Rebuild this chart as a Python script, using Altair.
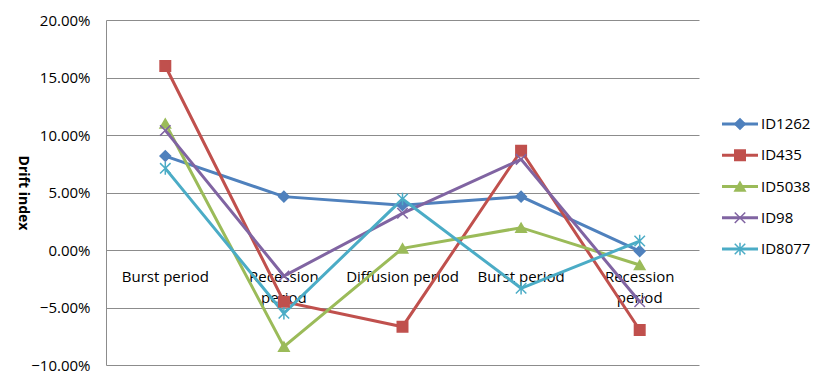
import altair as alt
import pandas as pd

# ---- data ----
cat_keys = ["1", "2", "3", "4", "5"]
cat_labels = ["Burst period", "Recession\nperiod", "Diffusion period", "Burst period", "Recession\nperiod"]

series_names = ["ID1262", "ID435", "ID5038", "ID98", "ID8077"]
id1262 = [0.0817, 0.0464, 0.0390, 0.0464, -0.0010]
id435 = [0.1600, -0.0450, -0.0667, 0.0864, -0.0696]
id5038 = [0.1100, -0.0840, 0.0014, 0.0194, -0.0130]
id98 = [0.1040, -0.0226, 0.0319, 0.0788, -0.0450]
id8077 = [0.0710, -0.0550, 0.0443, -0.0333, 0.0078]
series_values = [id1262, id435, id5038, id98, id8077]

colors = ["#4F81BD", "#C0504D", "#9BBB59", "#8064A2", "#4BACC6"]
shapes = [
    "diamond",
    "square",
    "triangle-up",
    "M-1,-1L1,1M-1,1L1,-1",
    "M-1,-1L1,1M-1,1L1,-1M0,-1.2L0,1.2",
]

rows = []
for s_i, name in enumerate(series_names):
    for k, v in zip(cat_keys, series_values[s_i]):
        rows.append({"series": name, "key": k, "value": v, "order": s_i})
df = pd.DataFrame(rows)
cats = pd.DataFrame({"key": cat_keys, "label": cat_labels})
leg = pd.DataFrame({"series": series_names})

FONT = "Open Sans"
FS = 15
color_scale = alt.Scale(domain=series_names, range=colors)
shape_scale = alt.Scale(domain=series_names, range=shapes)

x_enc = alt.X("key:O", axis=None, sort=cat_keys, scale=alt.Scale(padding=0.5))
y_enc = alt.Y(
    "value:Q",
    scale=alt.Scale(domain=[-0.1, 0.2], nice=False),
    axis=alt.Axis(
        values=[-0.1, -0.05, 0, 0.05, 0.1, 0.15, 0.2],
        format=".2%",
        title="Drift index",
        titleAngle=90,
        titleFontWeight="bold",
        titleFontSize=14,
        titlePadding=7,
        labelFontSize=FS,
        labelPadding=16,
        labelColor="#000",
        titleColor="#000",
        ticks=False,
        grid=True,
        gridColor="#8C8C8C",
        domainColor="#8C8C8C",
        labelFont=FONT,
        titleFont=FONT,
        minExtent=84,
        maxExtent=84,
    ),
)

lines = alt.Chart(df).mark_line(strokeWidth=3).encode(
    x=x_enc,
    y=y_enc,
    color=alt.Color("series:N", scale=color_scale, legend=None),
    detail="series:N",
    order="order:Q",
)

points = alt.Chart(df).mark_point(filled=True, size=110, strokeWidth=1.5, opacity=1).encode(
    x=x_enc,
    y="value:Q",
    shape=alt.Shape("series:N", scale=shape_scale, legend=None),
    fill=alt.Fill("series:N", scale=color_scale, legend=None),
    stroke=alt.Stroke("series:N", scale=color_scale, legend=None),
)

labels = alt.Chart(cats).mark_text(
    baseline="top", dy=20, fontSize=FS, lineBreak="\n", lineHeight=21, font=FONT, color="#000"
).encode(
    x=x_enc,
    y=alt.datum(0),
    text="label:N",
)

main = alt.layer(labels, lines, points).properties(width=593, height=345)

legend_y = alt.Y("series:N", sort=series_names, axis=None,
                 scale=alt.Scale(type="point", range=[104, 229], padding=0))
leg_rule = alt.Chart(leg).mark_rule(strokeWidth=3).encode(
    x=alt.value(13), x2=alt.value(49), y=legend_y,
    color=alt.Color("series:N", scale=color_scale, legend=None),
)
leg_pt = alt.Chart(leg).mark_point(filled=True, size=110, strokeWidth=1.5, opacity=1).encode(
    x=alt.value(31), y=legend_y,
    shape=alt.Shape("series:N", scale=shape_scale, legend=None),
    fill=alt.Fill("series:N", scale=color_scale, legend=None),
    stroke=alt.Stroke("series:N", scale=color_scale, legend=None),
)
leg_txt = alt.Chart(leg).mark_text(align="left", baseline="middle", fontSize=FS, font=FONT, color="#000").encode(
    x=alt.value(52), y=legend_y, text="series:N",
)
legend = alt.layer(leg_rule, leg_pt, leg_txt).properties(width=90, height=345)

chart = alt.hconcat(main, legend, spacing=10).properties(
    padding={"left": 7, "top": 5, "right": 5, "bottom": 5}
).configure(
    font=FONT, view=alt.ViewConfig(stroke=None)
)

chart.save("out.html", embed_options={"renderer": "svg", "actions": False})
